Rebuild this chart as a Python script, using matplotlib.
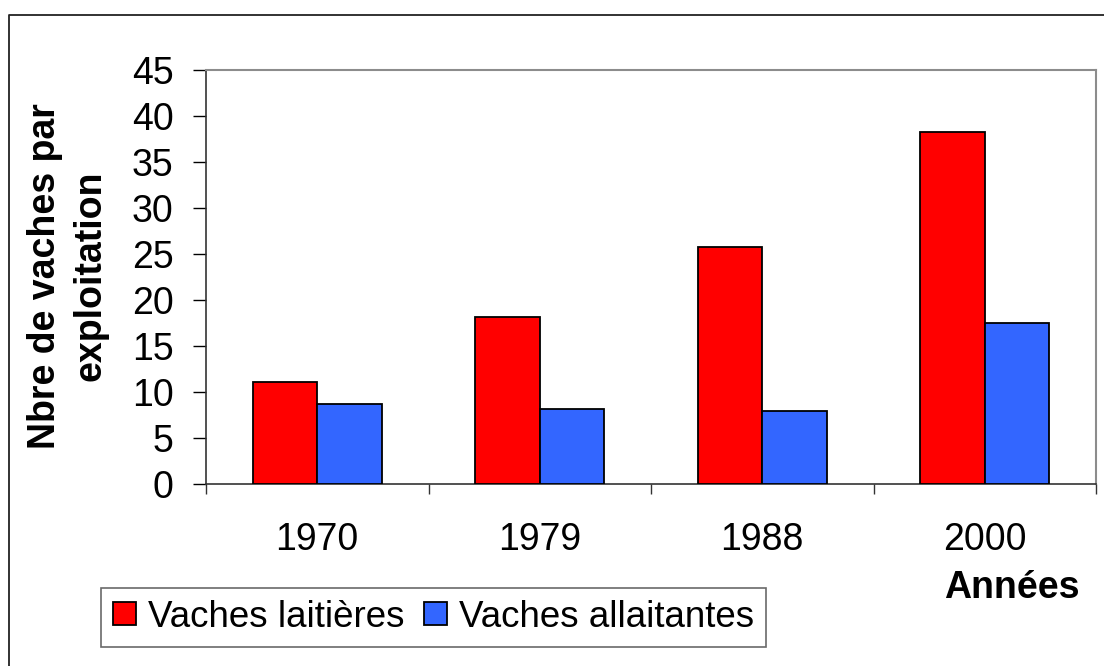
import matplotlib
matplotlib.use("Agg")
import matplotlib.pyplot as plt
from matplotlib.lines import Line2D
import numpy as np

plt.rcParams['font.family'] = ['Liberation Sans', 'DejaVu Sans']

years = ["1970", "1979", "1988", "2000"]
laitieres = [11.1, 18.2, 25.8, 38.3]
allaitantes = [8.7, 8.2, 7.9, 17.5]
series_names = ["Vaches laitières", "Vaches allaitantes"]
yticks = [0, 5, 10, 15, 20, 25, 30, 35, 40, 45]

W, H = 1104, 666
fig = plt.figure(figsize=(W / 100, H / 100), dpi=100)

# outer frame (only top & left visible in reference)
fig.add_artist(Line2D([9 / W, 9 / W, 1.0], [0.0, 1 - 15 / H, 1 - 15 / H],
                      transform=fig.transFigure, color='#222222', lw=1.3))

ax = fig.add_axes([206 / W, 1 - 484 / H, (1096 - 206) / W, (484 - 70) / H])
x = np.arange(len(years))
bw = 0.29
ax.bar(x - bw / 2, laitieres, width=bw, color='#FF0000', edgecolor='black',
       linewidth=1.3, label=series_names[0], zorder=3)
ax.bar(x + bw / 2, allaitantes, width=bw, color='#3366FF', edgecolor='black',
       linewidth=1.3, label=series_names[1], zorder=3)

ax.set_xlim(-0.5, len(years) - 0.5)
ax.set_ylim(0, 45)
ax.set_yticks(yticks)
ax.set_yticklabels([str(v) for v in yticks], fontsize=27)
ax.tick_params(axis='y', direction='out', length=9.4, width=1, pad=14, colors='black')

ax.set_xticks(x)
ax.set_xticklabels(years, fontsize=27)
ax.tick_params(axis='x', which='major', length=0, pad=27)
ax.set_xticks(np.arange(-0.5, len(years)), minor=True)
ax.tick_params(axis='x', which='minor', direction='out', length=7.2, width=1, color='#333333')

for s in ['left', 'bottom']:
    ax.spines[s].set_color('#333333')
    ax.spines[s].set_linewidth(1.2)
for s in ['top', 'right']:
    ax.spines[s].set_color('#8c8c8c')
    ax.spines[s].set_linewidth(1.5)

fig.text(1012 / W, 1 - 598 / H, "Années", fontsize=27, fontweight='bold',
         ha='center', va='baseline')

fig.text(68 / W, 1 - 276 / H, "Nbre de vaches par\nexploitation", fontsize=27,
         fontweight='bold', rotation=90, ha='center', va='center',
         multialignment='center', linespacing=1.35)

leg = fig.legend(loc='upper left', bbox_to_anchor=(101 / W, 1 - 588 / H),
                 ncol=2, fontsize=26.5, frameon=True, fancybox=False,
                 handlelength=0.62, handleheight=0.6, handletextpad=0.33,
                 columnspacing=0.55, borderpad=0.32, borderaxespad=0)
leg.get_frame().set_edgecolor('#444444')
leg.get_frame().set_linewidth(1.2)

fig.savefig("out.png", dpi=100)
